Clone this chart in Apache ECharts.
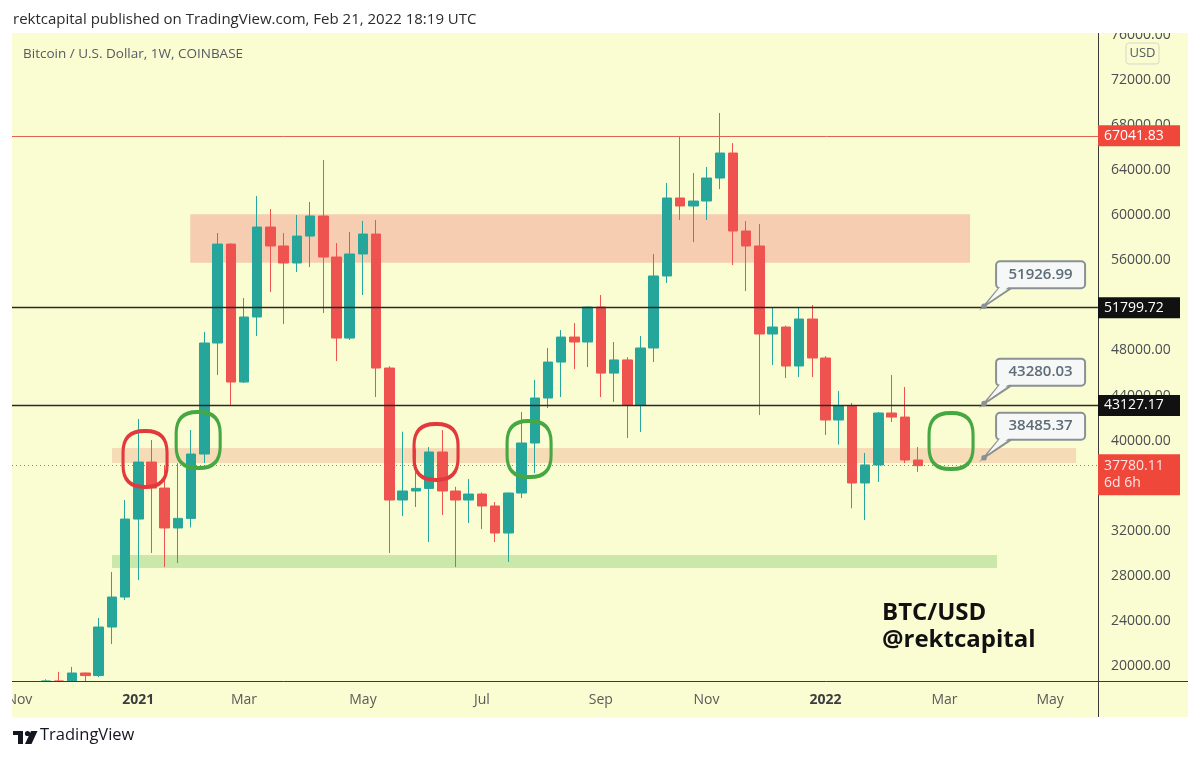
<!DOCTYPE html>
<html lang="en">
<head>
<meta charset="UTF-8">
<title>Bitcoin / U.S. Dollar, 1W</title>
<script src="https://cdn.jsdelivr.net/npm/echarts@6/dist/echarts.min.js"></script>
<style>
    html, body { margin: 0; padding: 0; background: #ffffff; }
    #main { width: 1200px; height: 761px; }
</style>
</head>
<body>
<div id="main"></div>
<script type="text/javascript">
    // weekly candles, BTC/USD COINBASE (week open dates)
    var weeks = ['2020-11-02','2020-11-09','2020-11-16','2020-11-23','2020-11-30','2020-12-07','2020-12-14','2020-12-21','2020-12-28',
        '2021-01-04','2021-01-11','2021-01-18','2021-01-25','2021-02-01','2021-02-08','2021-02-15','2021-02-22',
        '2021-03-01','2021-03-08','2021-03-15','2021-03-22','2021-03-29','2021-04-05','2021-04-12','2021-04-19','2021-04-26',
        '2021-05-03','2021-05-10','2021-05-17','2021-05-24','2021-05-31','2021-06-07','2021-06-14','2021-06-21','2021-06-28',
        '2021-07-05','2021-07-12','2021-07-19','2021-07-26','2021-08-02','2021-08-09','2021-08-16','2021-08-23','2021-08-30',
        '2021-09-06','2021-09-13','2021-09-20','2021-09-27','2021-10-04','2021-10-11','2021-10-18','2021-10-25',
        '2021-11-01','2021-11-08','2021-11-15','2021-11-22','2021-11-29','2021-12-06','2021-12-13','2021-12-20','2021-12-27',
        '2022-01-03','2022-01-10','2022-01-17','2022-01-24','2022-01-31','2022-02-07','2022-02-14','2022-02-21'];
    var opens = [13550,15480,15960,18680,18180,19380,19150,23460,26120,
        33040,38100,35790,32250,33100,38810,48660,57440,
        45200,50970,58950,57270,55760,58150,59930,56290,49100,
        56560,58330,46440,34730,35530,35760,38990,35530,34730,
        35260,34200,31800,35350,39790,43780,46970,49190,48750,
        51850,45990,47160,43160,48220,54610,61530,60820,
        61260,63300,65520,58600,57270,49460,50080,46620,50790,
        47330,41830,43070,36240,37840,42450,42090,38280];
    var highs = [15970,16480,18820,19480,19920,19420,24260,28340,34730,
        41920,40050,37850,38000,40940,49640,58420,57500,
        52650,61700,60550,58420,60020,61170,64900,57530,58510,
        59490,59580,46600,40790,39300,39430,40940,35900,36590,
        35400,34550,35400,42540,45380,48220,49810,50430,51900,
        52920,48750,47400,49280,56560,62860,67030,63740,
        64280,69070,66400,59490,59220,51850,50200,51850,52030,
        47500,44400,43340,38900,42540,45820,44760,39430];
    var lows = [13200,14800,15780,16200,17570,17600,19020,21950,25860,
        27630,30030,28780,29140,32300,38010,45820,43160,
        45110,49280,53190,50350,54960,55400,51320,47060,48930,
        52920,43870,30030,33310,34110,31000,33400,28780,32690,
        32160,31000,29230,34900,37120,42890,43870,46350,46530,
        43870,43430,40230,40760,46970,53990,59580,57620,
        59580,62320,55580,53270,42270,46710,45550,45640,45640,
        40500,39650,33990,32950,36330,41650,38010,37220];
    var closes = [15480,15960,18680,18180,19380,19150,23460,26120,33040,
        38100,35790,32250,33100,38810,48660,57440,45200,
        50970,58950,57270,55760,58150,59930,56290,49100,56560,
        58330,46440,34730,35530,35760,38990,35530,34730,35260,
        34200,31800,35350,39790,43780,46970,49190,48750,51850,
        45990,47160,43160,48220,54610,61530,60820,61260,
        63300,65520,58600,57270,49460,50080,46620,50790,47330,
        41830,43070,36240,37840,42450,42090,38280,37780.11];

    // axis ticks
    var tickWeeks = ['2020-11-02','2021-01-04','2021-03-01','2021-05-03','2021-07-05','2021-09-06','2021-11-01','2022-01-03','2022-03-07','2022-05-02'];
    var tickLabels = ['Nov','2021','Mar','May','Jul','Sep','Nov','2022','Mar','May'];
    var priceTicks = [20000,24000,28000,32000,36000,40000,44000,48000,52000,56000,60000,64000,68000,72000,76000];

    // drawn levels
    var athLevel = 67041.83;
    var blackLevels = [51799.72, 43127.17];
    var lastPrice = 37780.11;
    var calloutValues = [51926.99, 43280.03, 38485.37];
    var calloutWeek = 73.0;

    // zones: [fromWeek, toWeek, lowPrice, highPrice]
    var upperZone = [12.93, 71.94, 55780, 60080];
    var midZone = [7.01, 79.96, 38010, 39340];
    var lowZone = [7.01, 73.98, 28700, 29850];

    // hand drawn rings: [week, price]
    var redRings = [[9.51, 38370], [31.53, 38990]];
    var greenRings = [[13.53, 40050], [38.57, 39255], [70.5, 39964]];

    var xMin = -0.557, xMax = 81.62;
    var yMin = 18670, yMax = 76170;

    function weekIdx(d) {
        return Math.round((Date.parse(d) - Date.parse(weeks[0])) / 6048e5);
    }
    var tickIdx = tickWeeks.map(weekIdx);

    var candles = weeks.map(function (w, i) {
        return [i, opens[i], closes[i], lows[i], highs[i]];
    });

    var font = "'Open Sans', 'DejaVu Sans', sans-serif";
    var panelColor = '#fafcd2';
    var ringPath = 'path://M21,0 H23 Q44,0 44,21 V34 Q44,55 23,55 H21 Q0,55 0,34 V21 Q0,0 21,0 Z';

    function zone(z, color) {
        return [{xAxis: z[0], yAxis: z[2], itemStyle: {color: color}}, {xAxis: z[1], yAxis: z[3]}];
    }
    function ring(p, color) {
        return {coord: p, symbol: ringPath, symbolSize: [44, 56],
            itemStyle: {color: 'rgba(0,0,0,0)', borderColor: color, borderWidth: 3.5}};
    }
    function tag(v, text, bg, extra) {
        var lab = {show: true, position: 'right', distance: 0, formatter: text,
            backgroundColor: bg, color: '#ffffff', fontSize: 14, fontFamily: font,
            padding: [2, 6, 2, 6], width: 70, lineHeight: 17};
        if (extra) { for (var k in extra) lab[k] = extra[k]; }
        return {coord: [xMax, v], symbol: 'rect', symbolSize: 0, label: lab};
    }

    var myChart = echarts.init(document.getElementById('main'));

    var option = {
        animation: false,
        textStyle: {fontFamily: font},
        grid: {left: 12, right: 102, top: 33, bottom: 80},
        xAxis: {
            type: 'value', min: xMin, max: xMax, z: 10,
            axisLine: {show: true, onZero: false, lineStyle: {color: '#3a3a3a', width: 1}},
            axisTick: {show: false},
            splitLine: {show: false},
            axisLabel: {
                customValues: tickIdx, margin: 12, fontSize: 14, color: '#5a5a5a', fontFamily: font,
                formatter: function (v) {
                    var t = tickLabels[tickIdx.indexOf(Math.round(v))] || '';
                    return /^\d{4}$/.test(t) ? '{y|' + t + '}' : t;
                },
                rich: {y: {fontWeight: 'bold', color: '#3d3d3d', fontSize: 14, fontFamily: font}}
            }
        },
        yAxis: {
            type: 'value', position: 'right', min: yMin, max: yMax,
            axisLine: {show: true, onZero: false, lineStyle: {color: '#3a3a3a', width: 1}},
            axisTick: {show: false},
            splitLine: {show: false},
            axisLabel: {
                customValues: priceTicks, margin: 13, fontSize: 14, color: '#4a4d52', fontFamily: font,
                formatter: function (v) { return v.toFixed(2); }
            }
        },
        series: [
            {
                name: 'zones', type: 'line', data: [], z: 1, silent: true,
                markArea: {
                    silent: true,
                    data: [zone(upperZone, '#f6cdb0'), zone(midZone, '#f5dcb6'), zone(lowZone, '#c9e8a9')]
                },
                markLine: {
                    silent: true, symbol: ['none', 'none'], label: {show: false},
                    data: [
                        {yAxis: athLevel, lineStyle: {color: '#e0634f', width: 1, type: 'solid'}},
                        {yAxis: blackLevels[0], lineStyle: {color: '#2a2a2a', width: 1.4, type: 'solid'}},
                        {yAxis: blackLevels[1], lineStyle: {color: '#2a2a2a', width: 1.4, type: 'solid'}},
                        {yAxis: lastPrice, lineStyle: {color: '#e0634f', width: 1, type: [1, 3]}}
                    ]
                }
            },
            {
                name: 'BTC/USD', type: 'candlestick', z: 3, barWidth: 10,
                data: candles,
                itemStyle: {
                    color: '#26a69a', color0: '#ef5350',
                    borderColor: '#26a69a', borderColor0: '#ef5350', borderWidth: 1
                }
            },
            {
                name: 'marks', type: 'line', data: [], z: 5, silent: true,
                markPoint: {
                    silent: true,
                    data: redRings.map(function (p) { return ring(p, '#e23a3c'); })
                        .concat(greenRings.map(function (p) { return ring(p, '#46a843'); }))
                        .concat([
                            tag(athLevel, '67041.83', '#f0473b'),
                            tag(blackLevels[0], '51799.72', '#111111'),
                            tag(blackLevels[1], '43127.17', '#111111'),
                            tag(lastPrice, '37780.11\n6d 6h', '#f0473b', {offset: [0, 9], color: '#fde6e3', padding: [3, 6, 4, 6]})
                        ])
                }
            }
        ],
        graphic: {
            elements: [
                {id: 'panel', type: 'rect', z: -10, silent: true, shape: {x: 12, y: 33, width: 1176, height: 684}, style: {fill: panelColor}},
                // hides candle parts that fall under the time scale
                {id: 'belowAxis', type: 'rect', z: 4, silent: true, shape: {x: 12, y: 681.5, width: 1086, height: 36}, style: {fill: panelColor}},
                {id: 'coverTop', type: 'rect', z: 50, silent: true, shape: {x: 0, y: 0, width: 1200, height: 33}, style: {fill: '#ffffff'}},
                {id: 'coverLeft', type: 'rect', z: 50, silent: true, shape: {x: 0, y: 33, width: 12, height: 700}, style: {fill: '#ffffff'}},
                {id: 'axisExtV', type: 'line', z: 5, silent: true, shape: {x1: 1098.5, y1: 681, x2: 1098.5, y2: 717}, style: {stroke: '#3a3a3a', lineWidth: 1}},
                {id: 'axisExtH', type: 'line', z: 5, silent: true, shape: {x1: 1098, y1: 681.5, x2: 1188, y2: 681.5}, style: {stroke: '#3a3a3a', lineWidth: 1}},
                {id: 'header', type: 'text', z: 60, left: 13, top: 12,
                    style: {text: 'rektcapital published on TradingView.com, Feb 21, 2022 18:19 UTC', fill: '#2b2b2b', font: '15px ' + font}},
                {id: 'legend', type: 'text', z: 60, left: 23, top: 47,
                    style: {text: 'Bitcoin / U.S. Dollar, 1W, COINBASE', fill: '#555a60', font: '13.5px ' + font}},
                {id: 'usdBox', type: 'rect', z: 60, shape: {x: 1126, y: 43, width: 33, height: 21, r: 3},
                    style: {fill: panelColor, stroke: '#d6d8c8', lineWidth: 1}},
                {id: 'usd', type: 'text', z: 61, x: 1142.5, y: 53.5,
                    style: {text: 'USD', fill: '#555a60', font: '13px ' + font, align: 'center', verticalAlign: 'middle'}},
                {id: 'wm', type: 'text', z: 6, left: 882, top: 600,
                    style: {text: 'BTC/USD\n@rektcapital', fill: '#111111', font: 'bold 24px ' + font, lineHeight: 27}},
                {id: 'tvT1', type: 'rect', z: 60, shape: {x: 13, y: 731, width: 10, height: 4}, style: {fill: '#131722'}},
                {id: 'tvT2', type: 'rect', z: 60, shape: {x: 18, y: 731, width: 5, height: 13}, style: {fill: '#131722'}},
                {id: 'tvDot', type: 'circle', z: 60, shape: {cx: 27.5, cy: 733.5, r: 2.6}, style: {fill: '#131722'}},
                {id: 'tvSlash', type: 'polygon', z: 60, shape: {points: [[31, 731], [37.5, 731], [31.5, 744], [25, 744]]}, style: {fill: '#131722'}},
                {id: 'tvText', type: 'text', z: 60, left: 40, top: 727,
                    style: {text: 'TradingView', fill: '#131722', font: '16.5px ' + font}}
            ]
        }
    };
    myChart.setOption(option);

    // callout bubbles anchored on the price scale
    var bubbles = [];
    calloutValues.forEach(function (v, n) {
        var p = myChart.convertToPixel({xAxisIndex: 0, yAxisIndex: 0}, [calloutWeek, v]);
        var bx = p[0] + 12, by = p[1] - 45, bw = 89, bh = 27;
        bubbles.push(
            {id: 'bTail' + n, type: 'polyline', z: 20, silent: true,
                shape: {points: [[bx + 3, by + bh], [p[0], p[1]], [bx + 15, by + bh]]},
                style: {stroke: '#8b9094', lineWidth: 2, fill: null}},
            {id: 'bBox' + n, type: 'rect', z: 21, silent: true,
                shape: {x: bx, y: by, width: bw, height: bh, r: 4},
                style: {fill: '#f5f8f7', stroke: '#8b9094', lineWidth: 2}},
            {id: 'bFill' + n, type: 'polygon', z: 22, silent: true,
                shape: {points: [[bx + 4.5, by + bh - 2], [p[0] + 3, p[1] - 3], [bx + 13.5, by + bh - 2]]},
                style: {fill: '#f5f8f7'}},
            {id: 'bText' + n, type: 'text', z: 23, silent: true, x: bx + bw / 2, y: by + bh / 2,
                style: {text: v.toFixed(2), fill: '#5d6d79', font: '600 15px ' + font, align: 'center', verticalAlign: 'middle'}},
            {id: 'bDot' + n, type: 'circle', z: 23, silent: true,
                shape: {cx: p[0], cy: p[1], r: 2.8}, style: {fill: '#8b9094'}}
        );
    });
    myChart.setOption({graphic: {elements: bubbles}});
</script>
</body>
</html>
